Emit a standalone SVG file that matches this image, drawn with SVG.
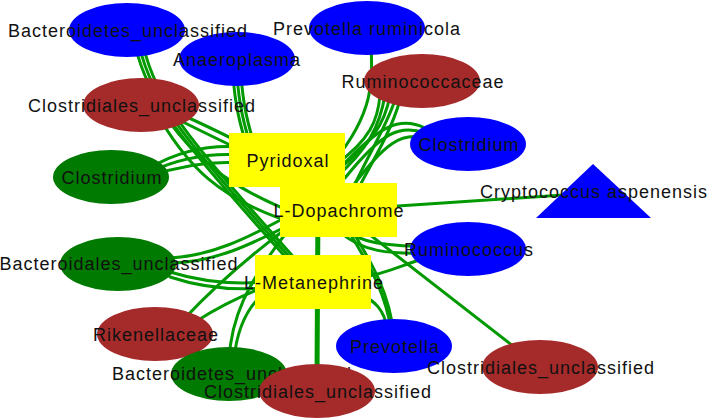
<svg xmlns="http://www.w3.org/2000/svg" width="708" height="420" viewBox="0 0 708 420">
<style>
.e{fill:none;stroke:#009900;stroke-width:3;stroke-linecap:round}
.th{stroke-width:5}
.blue{fill:#0000FF}
.brown{fill:#A52A2A}
.green{fill:#007A00}
.yel{fill:#FFFF00}
text{font-family:"Liberation Sans",Arial,sans-serif;font-size:18px;letter-spacing:1px;fill:#111;text-anchor:middle}
</style>
<rect width="708" height="420" fill="#fff"/>
<g id="edges">
<path class="e" d="M233 75 C235 105,240 125,248 150"/>
<path class="e" d="M237 75 C239 105,244 125,252 150"/>
<path class="e" d="M241 75 C243 105,248 125,256 150"/>
<path class="e" d="M135 45 C148 100,180 140,290 262"/>
<path class="e" d="M139 45 C152 100,184 140,294 262"/>
<path class="e" d="M143 45 C156 100,188 140,298 262"/>
<path class="e" d="M175 112 C195 120,215 130,245 145"/>
<path class="e" d="M175 118 C195 128,215 138,245 152"/>
<path class="e" d="M168 120 C190 150,220 185,300 215"/>
<path class="e" d="M162 122 C185 160,215 200,300 225"/>
<path class="e" d="M150 168 C180 150,210 145,240 147"/>
<path class="e" d="M150 172 C180 158,210 153,240 155"/>
<path class="e" d="M150 176 C180 166,210 161,240 163"/>
<path class="e" d="M170 258 C210 256,245 240,295 212"/>
<path class="e" d="M172 263 C215 262,250 245,295 222"/>
<path class="e" d="M170 272 Q215 286,265 282"/>
<path class="e" d="M170 277 Q215 292,265 288"/>
<path class="e" d="M185 318 Q230 270,295 222"/>
<path class="e" d="M195 322 Q230 300,265 287"/>
<path class="e" d="M229 360 C231 320,245 285,290 228"/>
<path class="e" d="M234 360 C237 325,250 300,275 285"/>
<path class="e th" d="M317 380 L318 200"/>
<path class="e" d="M345 225 C362 255,385 285,392 335"/>
<path class="e" d="M349 225 C366 255,388 285,394 335"/>
<path class="e" d="M360 295 C375 300,384 310,388 330"/>
<path class="e" d="M345 230 C365 245,390 245,425 247"/>
<path class="e" d="M340 232 C362 252,390 254,425 253"/>
<path class="e" d="M360 278 C385 274,400 266,425 258"/>
<path class="e" d="M338 210 L540 367"/>
<path class="e" d="M338 210 L593 193"/>
<path class="e" d="M370 40 C375 80,372 115,335 160"/>
<path class="e" d="M380 95 C378 120,370 140,335 165"/>
<path class="e" d="M385 95 C380 125,368 150,335 178"/>
<path class="e" d="M390 95 C385 125,370 145,335 172"/>
<path class="e" d="M395 100 C385 130,365 160,350 195"/>
<path class="e" d="M400 100 C390 135,370 165,355 195"/>
<path class="e" d="M425 128 C400 116,380 125,340 168"/>
<path class="e" d="M425 133 C400 124,382 132,345 178"/>
<path class="e" d="M425 138 C402 132,385 142,350 190"/>
</g>
<g id="n-anaeroplasma"><ellipse class="blue" cx="237" cy="59" rx="58" ry="27"/><text x="237" y="66">Anaeroplasma</text></g>
<g id="n-bacteroidetes-top"><ellipse class="blue" cx="127" cy="30" rx="58" ry="27"/><text x="128" y="37">Bacteroidetes_unclassified</text></g>
<g id="n-prevotella-ruminicola"><ellipse class="blue" cx="367" cy="28" rx="58" ry="27"/><text x="367" y="35">Prevotella ruminicola</text></g>
<g id="n-ruminococcaceae"><ellipse class="brown" cx="422" cy="81" rx="58" ry="27"/><text x="423" y="88">Ruminococcaceae</text></g>
<g id="n-clostridiales-top"><ellipse class="brown" cx="141" cy="105" rx="58" ry="27"/><text x="142" y="112">Clostridiales_unclassified</text></g>
<g id="n-clostridium-blue"><ellipse class="blue" cx="468" cy="144" rx="58" ry="27"/><text x="469" y="151">Clostridium</text></g>
<g id="n-cryptococcus"><polygon class="blue" points="593,164 536,218 651,218"/><text x="594" y="198">Cryptococcus aspenensis</text></g>
<g id="n-ruminococcus"><ellipse class="blue" cx="468" cy="249" rx="58" ry="27"/><text x="469" y="256">Ruminococcus</text></g>
<g id="n-clostridium-green"><ellipse class="green" cx="111" cy="177" rx="58" ry="27"/><text x="112" y="184">Clostridium</text></g>
<g id="n-bacteroidales"><ellipse class="green" cx="118" cy="264" rx="58" ry="27"/><text x="119" y="270">Bacteroidales_unclassified</text></g>
<g id="n-rikenellaceae"><ellipse class="brown" cx="155" cy="334" rx="58" ry="27"/><text x="156" y="341">Rikenellaceae</text></g>
<g id="n-bacteroidetes-bottom"><ellipse class="green" cx="229" cy="374" rx="58" ry="27"/><text x="232" y="380">Bacteroidetes_unclassified</text></g>
<g id="n-clostridiales-bottom"><ellipse class="brown" cx="317" cy="391" rx="58" ry="27"/><text x="318" y="398">Clostridiales_unclassified</text></g>
<g id="n-prevotella"><ellipse class="blue" cx="394" cy="346" rx="58" ry="27"/><text x="395" y="353">Prevotella</text></g>
<g id="n-clostridiales-right"><ellipse class="brown" cx="540" cy="367" rx="58" ry="27"/><text x="541" y="374">Clostridiales_unclassified</text></g>
<g id="n-pyridoxal"><rect class="yel" x="229" y="133" width="116" height="54"/><text x="288" y="167">Pyridoxal</text></g>
<g id="n-dopachrome"><rect class="yel" x="280" y="183" width="117" height="54"/><text x="339" y="217">L-Dopachrome</text></g>
<g id="n-metanephrine"><rect class="yel" x="255" y="255" width="116" height="54"/><text x="314" y="289">L-Metanephrine</text></g>
</svg>
